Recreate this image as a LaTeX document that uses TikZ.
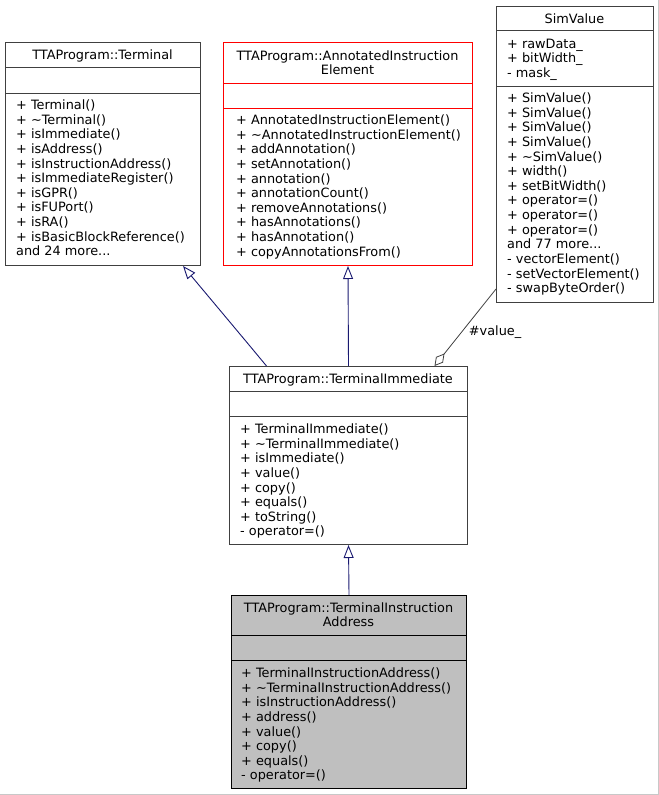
\documentclass[tikz,border=0pt]{standalone}
\usepackage{fontspec}
\setmainfont{DejaVu Sans}
\usetikzlibrary{arrows.meta}
\definecolor{edgeblue}{HTML}{191970}
\definecolor{boxgray}{HTML}{404040}
\definecolor{fillgray}{HTML}{BFBFBF}
\definecolor{framegray}{HTML}{C8C8C8}
\begin{document}
\begin{tikzpicture}[x=1bp,y=-1bp,
  classbox/.style={draw=boxgray, line width=1bp, fill=white, inner sep=0, anchor=north west},
  redbox/.style={classbox, draw=red},
  txt/.style={font=\fontsize{12.9}{14.7}\selectfont, inner sep=0, align=left, anchor=north west},
  ttl/.style={font=\fontsize{12.9}{14.2}\selectfont, inner sep=0, align=center},
  divider/.style={draw=boxgray, line width=1bp},
  inherit/.style={draw=edgeblue, line width=0.9bp, -{Triangle[open,length=13bp,width=10bp,fill=white]}},
  aggreg/.style={draw=boxgray, line width=0.8bp, -{Diamond[open,length=16bp,width=9bp,fill=white]}},
]
\useasboundingbox (0,0) rectangle (659,795);
\draw[framegray] (658,0) -- (658,794) -- (0,794);

% Terminal
\node[classbox, minimum width=195bp, minimum height=223bp] (term) at (5,42) {};
\draw[divider] (5,68) -- (200,68);
\draw[divider] (5,93) -- (200,93);
\node[ttl] (termT) at (102.5,55.5) {TTAProgram::Terminal};
\node[txt] (termM) at (16,99.5) {+ Terminal()\\+ \textasciitilde Terminal()\\+ isImmediate()\\+ isAddress()\\+ isInstructionAddress()\\+ isImmediateRegister()\\+ isGPR()\\+ isFUPort()\\+ isRA()\\+ isBasicBlockReference()\\and 24 more...};

% AnnotatedInstructionElement
\node[redbox, minimum width=249bp, minimum height=223bp] (anno) at (223,42) {};
\draw[divider, draw=red] (223,83) -- (472,83);
\draw[divider, draw=red] (223,108) -- (472,108);
\node[ttl] (annoT) at (347.5,62.5) {TTAProgram::AnnotatedInstruction\\Element};
\node[txt] (annoM) at (236,114.5) {+ AnnotatedInstructionElement()\\+ \textasciitilde AnnotatedInstructionElement()\\+ addAnnotation()\\+ setAnnotation()\\+ annotation()\\+ annotationCount()\\+ removeAnnotations()\\+ hasAnnotations()\\+ hasAnnotation()\\+ copyAnnotationsFrom()};

% SimValue
\node[classbox, minimum width=157bp, minimum height=296bp] (sim) at (496,6) {};
\draw[divider] (496,31) -- (653,31);
\draw[divider] (496,86) -- (653,86);
\node[ttl] (simT) at (574.5,19) {SimValue};
\node[txt] (simA) at (507,38.5) {+ rawData\_\\+ bitWidth\_\\- mask\_};
\node[txt] (simM) at (507,92.5) {+ SimValue()\\+ SimValue()\\+ SimValue()\\+ SimValue()\\+ \textasciitilde SimValue()\\+ width()\\+ setBitWidth()\\+ operator=()\\+ operator=()\\+ operator=()\\and 77 more...\\- vectorElement()\\- setVectorElement()\\- swapByteOrder()};

% TerminalImmediate
\node[classbox, minimum width=238bp, minimum height=178bp] (ti) at (229,366) {};
\draw[divider] (229,391) -- (467,391);
\draw[divider] (229,416) -- (467,416);
\node[ttl] (tiT) at (348,379.5) {TTAProgram::TerminalImmediate};
\node[txt] (tiM) at (240,423.5) {+ TerminalImmediate()\\+ \textasciitilde TerminalImmediate()\\+ isImmediate()\\+ value()\\+ copy()\\+ equals()\\+ toString()\\- operator=()};

% TerminalInstructionAddress
\node[classbox, fill=fillgray, draw=black, minimum width=235bp, minimum height=193bp] (tia) at (231,595) {};
\draw[divider, draw=black] (231,635) -- (466,635);
\draw[divider, draw=black] (231,660) -- (466,660);
\node[ttl] (tiaT) at (348.5,614.5) {TTAProgram::TerminalInstruction\\Address};
\node[txt] (tiaM) at (241,667.5) {+ TerminalInstructionAddress()\\+ \textasciitilde TerminalInstructionAddress()\\+ isInstructionAddress()\\+ address()\\+ value()\\+ copy()\\+ equals()\\- operator=()};

% edges
\draw[inherit] ([xshift=-82bp]ti.north) .. controls (240,334) and (203,290) .. ([xshift=80bp]term.south);
\draw[inherit] (ti.north) -- (anno.south);
\draw[inherit] (tia.north) -- (ti.south);
\draw[aggreg] ([yshift=14bp]sim.south west) -- node[pos=0.56, anchor=west, xshift=7bp, font=\fontsize{12.9}{14}\selectfont, inner sep=0] (valL) {\#value\_} ([xshift=86bp]ti.north);
\end{tikzpicture}
\end{document}
